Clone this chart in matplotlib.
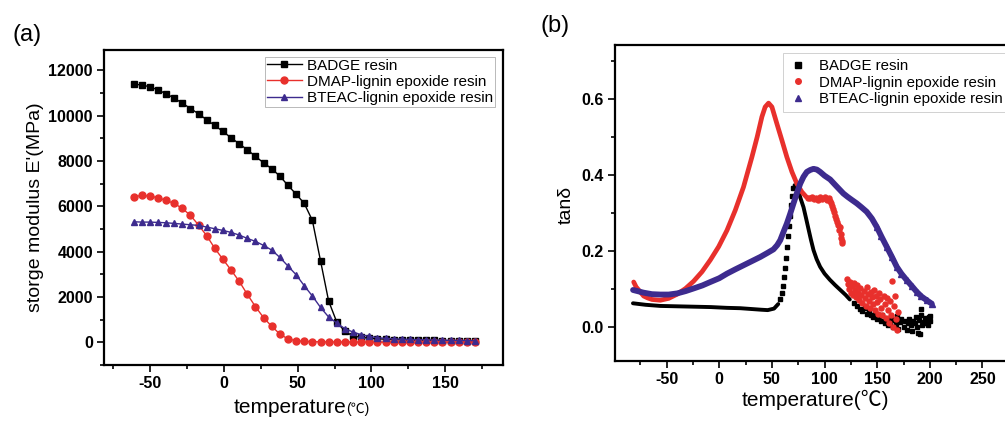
import matplotlib
matplotlib.use('Agg')
import matplotlib.pyplot as plt
from matplotlib.lines import Line2D
from matplotlib.ticker import MultipleLocator

plt.rcParams['font.family'] = ['Liberation Sans', 'Noto Sans CJK SC', 'DejaVu Sans']
plt.rcParams['axes.unicode_minus'] = False

# ---- (a) storage modulus vs temperature ----
tempA = [-61, -55.5, -50, -44.5, -39, -33.5, -28, -22.5, -17, -11.5, -6, -0.5, 5, 10.5,
         16, 21.5, 27, 32.5, 38, 43.5, 49, 54.5, 60, 65.5, 71, 76.5, 82, 87.5, 93, 98.5,
         104, 109.5, 115, 120.5, 126, 131.5, 137, 142.5, 148, 153.5, 159, 164.5, 170]
badgeE = [11390, 11365, 11278, 11146, 10970, 10778, 10557, 10322, 10087, 9822, 9572,
          9307, 9028, 8764, 8499, 8205, 7926, 7661, 7337, 6926, 6543, 6132, 5382, 3603,
          1823, 897, 485, 279, 220, 185, 160, 140, 125, 115, 105, 98, 92, 86, 80, 75,
          70, 66, 62]
dmapE = [6426, 6484, 6455, 6382, 6264, 6132, 5911, 5602, 5176, 4705, 4146, 3661, 3191,
         2691, 2117, 1573, 1088, 706, 368, 147, 74, 44, 29, 24, 20, 18, 16, 15, 14, 13,
         12, 12, 11, 10, 10, 10, 9, 9, 8, 8, 8, 7, 7]
bteacE = [5323, 5308, 5308, 5293, 5279, 5249, 5220, 5190, 5161, 5088, 5014, 4940, 4852,
          4735, 4588, 4455, 4279, 4073, 3749, 3367, 2985, 2500, 2044, 1544, 1118, 853,
          603, 456, 338, 265, 206, 175, 155, 140, 128, 118, 110, 102, 96, 90, 85, 80, 76]

# ---- (b) tan delta vs temperature ----
badgeT_flat = [-82, -70, -56, -40, -24, -8, 7, 20, 30, 40, 46, 52, 56]
badgeD_flat = [0.062, 0.058, 0.055, 0.054, 0.053, 0.052, 0.050, 0.049, 0.047, 0.045,
               0.044, 0.048, 0.060]
badgeT_rise = [58, 59.5, 60.5, 61.5, 62.5, 63.5, 64.5, 65.5, 66.5, 67.5, 68.5, 69.5, 70.5]
badgeD_rise = [0.072, 0.088, 0.108, 0.130, 0.155, 0.182, 0.210, 0.238, 0.265, 0.293,
               0.320, 0.345, 0.365]
badgeT_fall = [71.5, 73, 75, 77, 80, 82.5, 84.7, 87, 89.5, 92.5, 95.8, 100, 105, 110,
               115, 120, 124]
badgeD_fall = [0.373, 0.372, 0.360, 0.340, 0.315, 0.285, 0.258, 0.230, 0.202, 0.178,
               0.158, 0.140, 0.124, 0.110, 0.097, 0.084, 0.072]
badgeT_tail = [128, 131, 134, 136, 138, 140, 142, 144, 146, 148, 150, 152, 154, 155, 157,
               158, 160, 162, 163, 165, 166, 168, 169, 170, 172, 173, 175, 176, 178, 179,
               180, 182, 183, 184, 186, 187, 188, 189, 190, 191, 192, 192, 193, 194, 195,
               196, 197, 198, 199, 200, 200]
badgeD_tail = [0.062, 0.055, 0.048, 0.042, 0.050, 0.035, 0.040, 0.030, 0.025, 0.035,
               0.020, 0.022, 0.015, 0.030, 0.010, 0.020, 0.005, 0.012, 0.025, 0.000,
               0.018, 0.008, 0.028, -0.005, 0.012, 0.020, 0.000, 0.015, -0.008, 0.010,
               0.020, 0.005, -0.012, 0.015, 0.010, 0.025, 0.000, -0.017, 0.018, -0.020,
               0.030, 0.048, 0.005, 0.012, 0.022, 0.010, 0.020, 0.005, 0.025, 0.015, 0.028]

dmapT_line = [-81.3, -79, -76.6, -71.8, -68, -63.9, -56, -48, -40, -32, -24.4, -16.4,
              -8.5, -0.6, 7.3, 15.2, 23, 31, 36, 40.5, 43.6, 46.8, 50, 54.7, 59.5, 64.2,
              69, 73.7, 78.5, 83]
dmapD_line = [0.118, 0.105, 0.097, 0.081, 0.076, 0.072, 0.070, 0.075, 0.086, 0.101,
              0.120, 0.145, 0.176, 0.211, 0.254, 0.307, 0.368, 0.447, 0.500, 0.553,
              0.579, 0.589, 0.579, 0.535, 0.491, 0.447, 0.408, 0.377, 0.355, 0.341]
dmapT_dots = [84, 86, 88, 90, 92, 94, 96, 98, 100, 102, 104, 105, 106, 107, 108, 109,
              110, 111, 112, 113, 114, 115, 115.5, 116, 116.5, 117]
dmapD_dots = [0.340, 0.338, 0.342, 0.336, 0.340, 0.335, 0.343, 0.337, 0.341, 0.334,
              0.338, 0.330, 0.326, 0.318, 0.310, 0.302, 0.292, 0.284, 0.276, 0.268,
              0.255, 0.262, 0.245, 0.235, 0.225, 0.220]
dmapT_tail = [121, 122, 123, 124, 125, 126, 127, 128, 129, 130, 131, 132, 133, 134, 135,
              136, 137, 138, 139, 140, 141, 142, 143, 144, 145, 146, 147, 148, 149, 150,
              151, 152, 153, 154, 155, 156, 157, 158, 159, 160, 161, 162, 163, 164, 165,
              166, 167, 168, 169, 170]
dmapD_tail = [0.125, 0.112, 0.100, 0.118, 0.090, 0.107, 0.085, 0.115, 0.097, 0.078,
              0.110, 0.090, 0.070, 0.102, 0.083, 0.062, 0.095, 0.075, 0.055, 0.105,
              0.087, 0.068, 0.050, 0.092, 0.078, 0.060, 0.098, 0.045, 0.080, 0.065,
              0.035, 0.088, 0.072, 0.050, 0.030, 0.082, 0.060, 0.022, 0.075, 0.045,
              0.010, 0.068, 0.030, 0.120, 0.000, 0.055, 0.080, 0.020, -0.008, 0.040]

bteacT = [-81.9, -72, -64, -56, -48, -40, -32, -24.4, -16, -8.5, 0, 7.3, 15, 23, 31, 39,
          46, 51.5, 55, 57.9, 61, 64.2, 67.4, 70.5, 73.7, 76.9, 80, 83.2, 86.4, 89.5,
          92.7, 95.8, 100, 105.3, 110, 114.8, 117.9, 122, 126, 130.6, 135, 140, 145,
          149.6, 154, 159, 164, 168.6, 173, 178, 183, 187.6, 192, 197, 201.8]
bteacD = [0.097, 0.090, 0.086, 0.085, 0.085, 0.088, 0.094, 0.101, 0.109, 0.118, 0.128,
          0.140, 0.151, 0.162, 0.173, 0.184, 0.195, 0.204, 0.215, 0.228, 0.250, 0.272,
          0.298, 0.325, 0.352, 0.377, 0.395, 0.408, 0.413, 0.416, 0.414, 0.408, 0.398,
          0.388, 0.374, 0.360, 0.351, 0.342, 0.334, 0.325, 0.315, 0.303, 0.285, 0.263,
          0.238, 0.211, 0.184, 0.158, 0.140, 0.123, 0.107, 0.092, 0.080, 0.070, 0.061]

labels = ['BADGE resin', 'DMAP-lignin epoxide resin', 'BTEAC-lignin epoxide resin']
RED = '#e8302c'
BLUE = '#3d2b8e'


def style(ax):
    for s in ax.spines.values():
        s.set_linewidth(1.6)
    ax.tick_params(which='both', direction='out', top=False, right=False, width=1.2)
    ax.tick_params(which='major', length=5, labelsize=11.5, pad=3)
    ax.tick_params(which='minor', length=3)
    plt.setp(ax.get_xticklabels() + ax.get_yticklabels(), fontweight='bold')


fig = plt.figure(figsize=(10.05, 4.21), dpi=100)
axA = fig.add_axes([0.1035, 0.133, 0.397, 0.748])
axB = fig.add_axes([0.612, 0.1425, 0.397, 0.7506])

# panel (a)
axA.plot(tempA, badgeE, '-s', color='black', lw=1, ms=4.5, label=labels[0])
axA.plot(tempA, dmapE, '-o', color=RED, lw=1, ms=5, label=labels[1])
axA.plot(tempA, bteacE, '-^', color=BLUE, lw=1, ms=5, label=labels[2])
axA.set_xlim(-81, 189)
axA.set_ylim(-1000, 12900)
axA.xaxis.set_major_locator(MultipleLocator(50))
axA.xaxis.set_minor_locator(MultipleLocator(25))
axA.yaxis.set_major_locator(MultipleLocator(2000))
axA.yaxis.set_minor_locator(MultipleLocator(1000))
style(axA)
axA.set_ylabel("storge modulus E'(MPa)", fontsize=14)
axA.yaxis.set_label_coords(-0.15, 0.5)
axA.set_xlabel('temperature', fontsize=15)
axA.xaxis.set_label_coords(0.466, -0.105)
axA.annotate('(℃)', xy=(1, 0.05), xycoords=axA.xaxis.label, ha='left', va='bottom',
             fontsize=10)
legA = axA.legend(loc='upper left', bbox_to_anchor=(0.4035, 0.978), fontsize=11,
                  frameon=True, fancybox=False, edgecolor='#9a9a9a', borderpad=0.1,
                  handlelength=2.3, handletextpad=0.35, labelspacing=0.15,
                  borderaxespad=0)
legA.get_frame().set_linewidth(0.6)

# panel (b)
axB.plot(badgeT_flat, badgeD_flat, '-', color='black', lw=2.8, solid_capstyle='round')
axB.plot(badgeT_rise, badgeD_rise, 's', color='black', ms=3.2, ls='none')
axB.plot(badgeT_fall, badgeD_fall, '-', color='black', lw=2.8, solid_capstyle='round',
         solid_joinstyle='round')
axB.plot(badgeT_tail, badgeD_tail, 's', color='black', ms=3.2, ls='none')
axB.plot(dmapT_line, dmapD_line, '-', color=RED, lw=3.4, solid_capstyle='round',
         solid_joinstyle='round')
axB.plot(dmapT_dots, dmapD_dots, 'o', color=RED, ms=3.6, ls='none')
axB.plot(dmapT_tail, dmapD_tail, 'o', color=RED, ms=3.6, ls='none')
axB.plot(bteacT, bteacD, '-', color=BLUE, lw=4.2, solid_capstyle='round',
         solid_joinstyle='round')
axB.plot(bteacT[-12:], bteacD[-12:], '^', color=BLUE, ms=4, ls='none')
axB.set_xlim(-99, 280)
axB.set_ylim(-0.09, 0.742)
axB.xaxis.set_major_locator(MultipleLocator(50))
axB.xaxis.set_minor_locator(MultipleLocator(25))
axB.yaxis.set_major_locator(MultipleLocator(0.2))
axB.yaxis.set_minor_locator(MultipleLocator(0.1))
style(axB)
axB.set_ylabel('tanδ', fontsize=14)
axB.yaxis.set_label_coords(-0.10, 0.495)
axB.set_xlabel('temperature(℃)', fontsize=15)
axB.xaxis.set_label_coords(0.501, -0.092)
handles = [Line2D([], [], ls='none', marker='s', color='black', ms=4),
           Line2D([], [], ls='none', marker='o', color=RED, ms=4),
           Line2D([], [], ls='none', marker='^', color=BLUE, ms=4)]
legB = axB.legend(handles, labels, loc='upper left', bbox_to_anchor=(0.421, 0.975),
                  fontsize=10.8, frameon=True, fancybox=False, edgecolor='#bdbdbd',
                  borderpad=0.4, handlelength=1.2, handletextpad=0.8, labelspacing=0.18,
                  borderaxespad=0)
legB.get_frame().set_linewidth(0.6)

fig.text(12 / 1005, 1 - 41 / 421, '(a)', fontsize=17, va='baseline')
fig.text(540 / 1005, 1 - 32 / 421, '(b)', fontsize=17, va='baseline')

fig.savefig('out.png', dpi=100, facecolor='white')
